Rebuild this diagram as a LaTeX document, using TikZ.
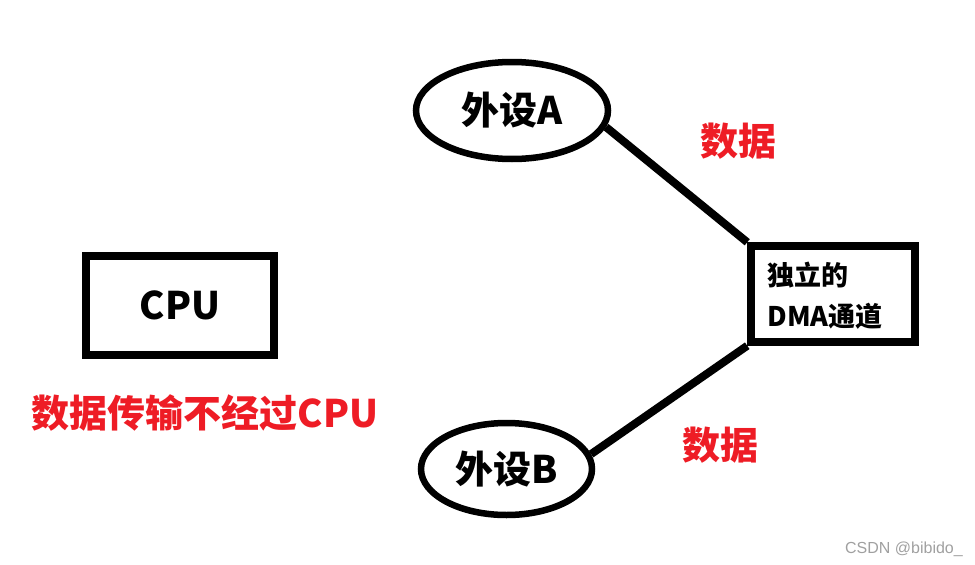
\documentclass[tikz,border=0pt]{standalone}
\usepackage{fontspec}
\newfontfamily\cjk{Noto Sans CJK SC}
\newfontfamily\wmfont{Liberation Sans}
\usetikzlibrary{positioning,shapes.geometric}
\definecolor{Ink}{HTML}{000000}
\definecolor{Alert}{HTML}{EE1C25}
\definecolor{Mark}{HTML}{A0A0A0}

\tikzset{
  unitbox/.style={draw=Ink,line width=7.5pt,rectangle,inner sep=0pt},
  device/.style={draw=Ink,line width=6.5pt,ellipse,inner sep=0pt},
  link/.style={draw=Ink,line width=8pt},
  bigtext/.style={font=\cjk\bfseries\fontsize{38}{40}\selectfont},
  redtext/.style={bigtext,text=Alert},
}

\begin{document}
\begin{tikzpicture}[x=1pt,y=-1pt]
        \useasboundingbox (0,0) rectangle (975,565);
        % processor and the note under it
        \node[unitbox,bigtext,minimum width=188pt,minimum height=99pt] (cpu) at (180,305.5) {CPU};
        \node[redtext] (note) at (205,413) {数据传输不经过CPU};
        % peripherals
        \node[device,bigtext,minimum width=192pt,minimum height=97pt] (devA) at (512,110.5) {外设A};
        \node[device,bigtext,minimum width=171pt,minimum height=92pt] (devB) at (506.5,469) {外设B};
        % channel
        \node[unitbox,minimum width=164pt,minimum height=96pt] (dma) at (833,294) {};
        \node[font=\cjk\bfseries\fontsize{27}{41}\selectfont,align=left,anchor=west] (dmatext) at (764,296) {独立的\\DMA通道};
        \draw[link] (devA.-10) -- (dma.north west);
        \draw[link] (devB.10) -- (dma.south west);
        \node[redtext] (dataA) at (738,141) {数据};
        \node[redtext] (dataB) at (720,445) {数据};
        % watermark
        \node[font=\wmfont\fontsize{16}{18}\selectfont,text=Mark] (mark) at (904,549) {CSDN @bibido\_};
      \end{tikzpicture}
\end{document}
